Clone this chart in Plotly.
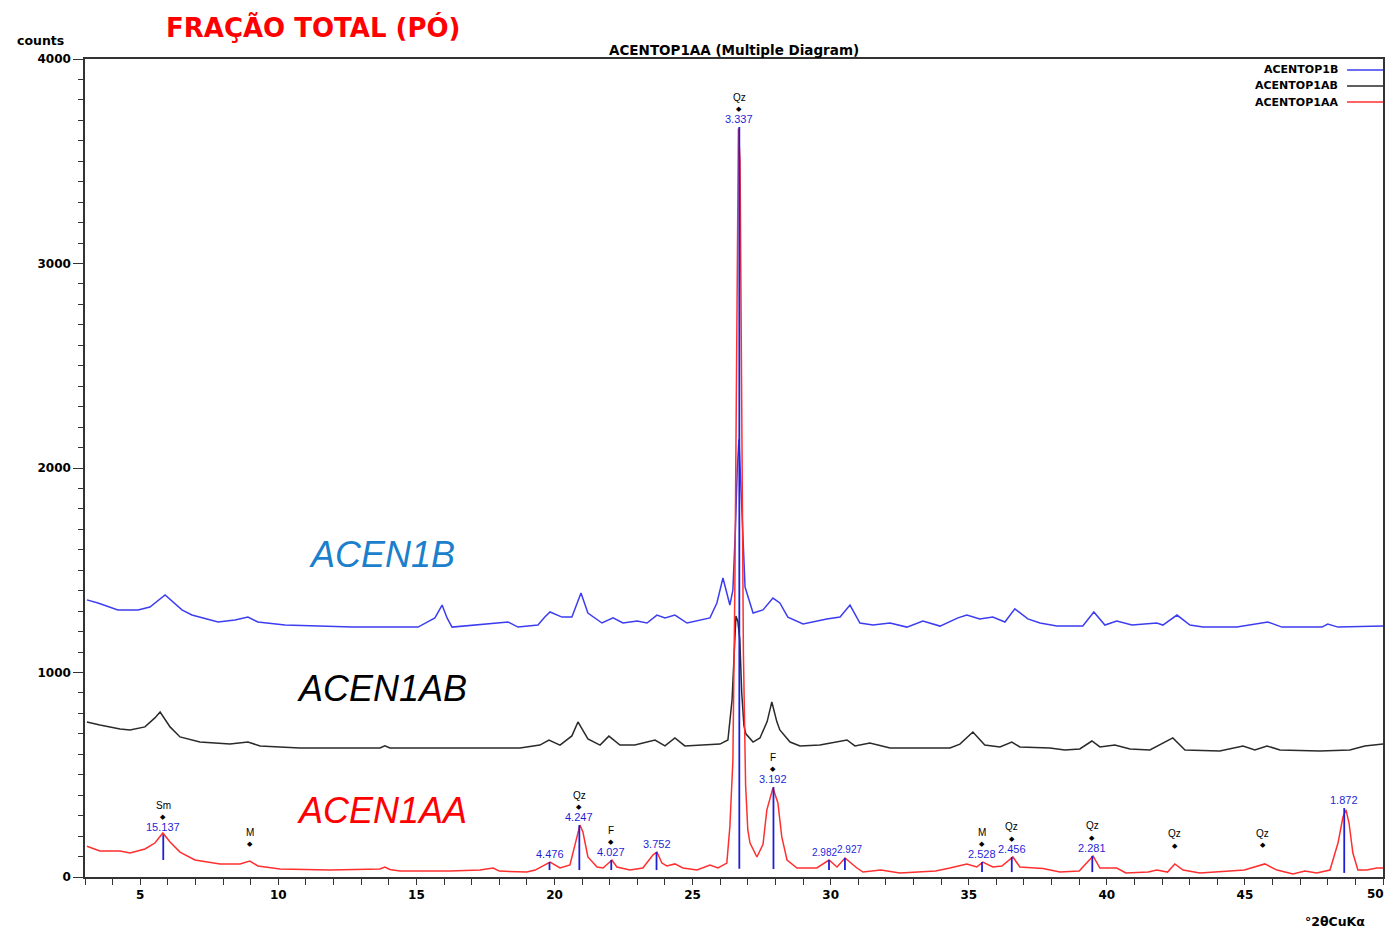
import math
import plotly.graph_objects as go

# ---------------- diffractogram traces (°2θ, counts) ----------------
two_theta_1b = [3.07, 3.47, 4.19, 4.92, 5.35, 5.90, 6.51, 6.87, 7.82, 8.43, 8.90, 9.26, 10.24,
                12.67, 15.06, 15.67, 15.93, 16.11, 16.29, 18.32, 18.68, 19.40, 19.65, 19.84,
                20.27, 20.63, 20.96, 21.21, 21.72, 22.12, 22.48, 22.99, 23.35, 23.71, 24.00,
                24.36, 24.80, 25.63, 25.88, 26.10, 26.35, 26.46, 26.55, 26.62, 26.68, 26.75,
                26.82, 26.90, 27.19, 27.55, 27.91, 28.16, 28.45, 29.00, 29.86, 30.34, 30.70,
                31.06, 31.53, 32.15, 32.76, 33.34, 33.96, 34.61, 34.93, 35.40, 35.87, 36.31,
                36.67, 37.14, 37.58, 38.19, 39.13, 39.53, 39.93, 40.36, 40.91, 41.81, 42.03,
                42.54, 43.01, 43.48, 44.71, 45.83, 46.34, 47.79, 48.00, 48.37, 50.00]
counts_1b = [1355, 1340, 1306, 1306, 1320, 1379, 1306, 1281, 1247, 1257, 1271, 1247, 1232,
             1222, 1222, 1267, 1330, 1267, 1222, 1247, 1222, 1232, 1271, 1296,
             1271, 1271, 1389, 1291, 1242, 1267, 1242, 1252, 1242, 1281, 1267,
             1281, 1242, 1267, 1340, 1462, 1330, 1403, 1700, 2000, 2140, 1900,
             1600, 1418, 1291, 1306, 1364, 1340, 1271, 1237, 1262, 1271, 1330,
             1242, 1232, 1242, 1222, 1252, 1227, 1267, 1281, 1262, 1271, 1247,
             1311, 1262, 1242, 1227, 1227, 1296, 1232, 1252, 1232, 1242, 1232,
             1281, 1232, 1222, 1222, 1247, 1222, 1222, 1237, 1222, 1227]

two_theta_1ab = [3.07, 3.54, 4.27, 4.63, 5.17, 5.53, 5.72, 6.08, 6.44, 7.16, 8.25, 8.90, 9.34,
                 10.78, 13.68, 13.86, 14.04, 16.22, 18.75, 19.47, 19.80, 20.20, 20.63, 20.85,
                 21.21, 21.65, 21.97, 22.37, 22.91, 23.64, 24.00, 24.36, 24.72, 25.99, 26.28,
                 26.43, 26.50, 26.57, 26.64, 26.71, 26.78, 26.86, 26.93, 27.19, 27.44, 27.70,
                 27.87, 28.05, 28.16, 28.53, 28.89, 29.61, 30.59, 30.88, 31.42, 32.15, 34.32,
                 34.68, 35.15, 35.58, 36.13, 36.56, 36.85, 37.94, 38.48, 39.02, 39.46, 39.75,
                 40.29, 40.84, 41.56, 42.39, 42.83, 44.09, 44.93, 45.36, 45.80, 46.27, 47.71,
                 48.80, 49.34, 50.00]
counts_1ab = [758, 743, 724, 719, 734, 778, 807, 734, 685, 660, 650, 660, 641,
              631, 631, 641, 631, 631, 631, 645, 670, 645, 690, 758,
              675, 645, 689, 645, 645, 670, 641, 680, 641, 650, 670,
              866, 1110, 1276, 1250, 1160, 900, 740, 700, 660, 680, 760,
              856, 760, 719, 660, 641, 645, 670, 641, 655, 631, 631,
              650, 709, 645, 636, 660, 636, 631, 621, 626, 665, 636,
              645, 626, 621, 680, 621, 616, 641, 621, 641, 621, 616,
              621, 641, 650]

two_theta_1aa = [3.07, 3.54, 4.27, 4.63, 5.17, 5.53, 5.82, 6.08, 6.44, 6.98, 7.89, 8.61, 8.97,
                 9.26, 10.06, 11.87, 13.68, 13.86, 14.04, 14.40, 16.22, 17.30, 17.78, 18.00,
                 19.00, 19.30, 19.84, 20.20, 20.56, 20.81, 20.92, 21.03, 21.21, 21.54, 21.76,
                 22.08, 22.26, 22.73, 23.20, 23.57, 23.71, 23.89, 24.07, 24.36, 24.65, 25.16,
                 25.63, 25.92, 26.24, 26.35, 26.46, 26.53, 26.60, 26.66, 26.72, 26.78, 26.84,
                 26.92, 27.00, 27.08, 27.33, 27.55, 27.69, 27.91, 28.09, 28.23, 28.42, 28.78,
                 29.50, 29.94, 30.23, 30.52, 30.95, 31.17, 31.82, 32.50, 33.80, 34.32, 34.93,
                 35.29, 35.51, 35.87, 36.20, 36.60, 36.85, 37.40, 37.69, 38.30, 39.00, 39.50,
                 39.75, 40.36, 40.69, 41.50, 41.81, 42.20, 42.46, 42.76, 43.37, 44.98, 45.72,
                 46.16, 46.74, 47.17, 47.60, 48.08, 48.37, 48.55, 48.66, 48.77, 48.91, 49.09,
                 49.41, 49.78, 50.00]
counts_1aa = [150, 127, 127, 117, 137, 166, 215, 171, 122, 83, 64, 64, 78,
              54, 39, 34, 39, 49, 37, 29, 29, 34, 44, 29,
              24, 34, 73, 44, 59, 196, 254, 220, 98, 49, 44,
              83, 49, 34, 44, 108, 122, 68, 54, 64, 44, 34,
              59, 44, 68, 245, 570, 1400, 2700, 3660, 3500, 2200, 1100,
              450, 230, 166, 98, 160, 328, 435, 362, 196, 83, 44,
              44, 83, 49, 93, 44, 24, 34, 20, 29, 44, 64,
              49, 73, 49, 54, 98, 49, 44, 42, 24, 29, 103,
              44, 44, 20, 25, 34, 24, 64, 34, 20, 34, 64,
              34, 15, 29, 20, 34, 166, 293, 328, 264, 117, 34,
              34, 44, 44]

# ---------------- peak identification ----------------
CU_KALPHA = 1.5406  # Å

stick_d = [15.137, 4.476, 4.247, 4.027, 3.752, 3.337, 3.192, 2.982, 2.927,
           2.528, 2.456, 2.281, 1.872]
stick_low = [83, 34, 34, 34, 34, 40, 39, 34, 34, 24, 24, 24, 20]
stick_high = [205, 73, 254, 83, 122, 3667, 440, 83, 93, 73, 98, 103, 337]
# small horizontal nudges (px) for the crowded label pair near 30°
stick_label_xshift = [0, 0, 0, 0, 0, 0, 0, -5, 5, 0, 0, 0, 0]

phase_names = ["Sm", "M", "Qz", "F", "Qz", "F", "M", "Qz", "Qz", "Qz", "Qz"]
phase_two_theta = [5.83, 8.97, 20.90, 22.06, 26.69, 27.93, 35.48, 36.56, 39.47, 42.46, 45.65]
phase_counts = [205, 73, 254, 83, 3667, 440, 73, 98, 103, 64, 68]

sample_names = ["ACEN1B", "ACEN1AB", "ACEN1AA"]
sample_label_counts = [1575, 924, 323]
legend_names = ["ACENTOP1B", "ACENTOP1AB", "ACENTOP1AA"]

X_MAX = 50

BLUE = "#3d3df0"
BLACK = "#2a2a2a"
RED = "#ff2f2f"
STICK = "#1f1fd8"


def d_to_two_theta(d):
    return math.degrees(2.0 * math.asin(CU_KALPHA / (2.0 * d)))


stick_x = [d_to_two_theta(d) for d in stick_d]

fig = go.Figure()
for xs, ys, col, name in [(two_theta_1b, counts_1b, BLUE, legend_names[0]),
                          (two_theta_1ab, counts_1ab, BLACK, legend_names[1]),
                          (two_theta_1aa, counts_1aa, RED, legend_names[2])]:
    fig.add_trace(go.Scatter(x=xs, y=ys, mode="lines", name=name,
                             line=dict(color=col, width=1.5), showlegend=False))

sx, sy = [], []
for x, lo, hi in zip(stick_x, stick_low, stick_high):
    sx += [x, x, None]
    sy += [lo, hi, None]
fig.add_trace(go.Scatter(x=sx, y=sy, mode="lines", line=dict(color=STICK, width=1.8),
                         showlegend=False, hoverinfo="skip"))

ann = []
# d-spacing labels
for x, hi, d, dx in zip(stick_x, stick_high, stick_d, stick_label_xshift):
    ann.append(dict(x=x, y=hi, xref="x", yref="y", text=f"{d:.3f}", showarrow=False,
                    yanchor="middle", yshift=8, xshift=dx,
                    font=dict(family="Liberation Sans, Arial", size=11 if dx == 0 else 10,
                              color=STICK)))
# phase markers
for name, x, c in zip(phase_names, phase_two_theta, phase_counts):
    ann.append(dict(x=x, y=c, xref="x", yref="y", text="◆", showarrow=False,
                    yanchor="middle", yshift=18,
                    font=dict(family="DejaVu Sans", size=7, color="black")))
    ann.append(dict(x=x, y=c, xref="x", yref="y", text=name, showarrow=False,
                    yanchor="middle", yshift=30,
                    font=dict(family="Liberation Sans, Arial", size=10, color="black")))

# sample names
for name, c, col in zip(sample_names, sample_label_counts, ["#1c7fcc", "black", "#ff0000"]):
    ann.append(dict(x=13.76, y=c, xref="x", yref="y", text=f"<i>{name}</i>", showarrow=False,
                    xanchor="center", yanchor="middle",
                    font=dict(family="Liberation Sans, Arial", size=36, color=col)))

# last x tick label, kept inside the page at the right edge
ann.append(dict(x=X_MAX, y=0, xref="x", yref="y", text=f"<b>{X_MAX}</b>", showarrow=False,
                xanchor="right", yanchor="middle", yshift=-17, xshift=3,
                font=dict(family="DejaVu Sans", size=12, color="black")))

# headings and axis captions
ann += [
    dict(x=0.1757, y=1.039, xref="paper", yref="paper", text="<b>FRAÇÃO TOTAL (PÓ)</b>",
         showarrow=False, xanchor="center", yanchor="middle",
         font=dict(family="DejaVu Sans", size=26, color="#ff0000")),
    dict(x=0.5, y=1.011, xref="paper", yref="paper", text="<b>ACENTOP1AA (Multiple Diagram)</b>",
         showarrow=False, xanchor="center", yanchor="middle",
         font=dict(family="DejaVu Sans", size=13.5, color="black")),
    dict(x=-0.0339, y=1.023, xref="paper", yref="paper", text="<b>counts</b>",
         showarrow=False, xanchor="center", yanchor="middle",
         font=dict(family="DejaVu Sans", size=12.5, color="black")),
    dict(x=0.963, y=-0.055, xref="paper", yref="paper", text="<b>°2θCuKα</b>",
         showarrow=False, xanchor="center", yanchor="middle",
         font=dict(family="DejaVu Sans", size=12.5, color="black")),
]

# legend (text left of the line sample)
shapes = []
for i, (name, col) in enumerate(zip(legend_names, [BLUE, BLACK, RED])):
    yy = 0.9866 - i * 0.0196
    ann.append(dict(x=0.9669, y=yy, xref="paper", yref="paper", text=f"<b>{name}</b>",
                    showarrow=False, xanchor="right", yanchor="middle",
                    font=dict(family="DejaVu Sans", size=11, color="black")))
    shapes.append(dict(type="line", xref="paper", yref="paper", x0=0.9723, x1=1.0,
                       y0=yy, y1=yy, line=dict(color=col, width=1.4)))

axis_font = dict(family="DejaVu Sans", size=12, color="black", weight="bold")
fig.update_layout(
    width=1386, height=931,
    margin=dict(l=85, r=3, t=59, b=54, autoexpand=False),
    paper_bgcolor="white", plot_bgcolor="white",
    annotations=ann, shapes=shapes,
    xaxis=dict(range=[3, X_MAX + 0.0001], tick0=0, dtick=5, showgrid=False, zeroline=False,
               showline=True, linecolor="#333", linewidth=1.5, mirror=True,
               ticks="outside", ticklen=6, tickwidth=1.2, tickcolor="#333",
               tickfont=axis_font, ticklabeloverflow="hide past div", automargin=False,
               minor=dict(dtick=1, ticks="outside", ticklen=6, tickcolor="#333", tickwidth=1.2)),
    yaxis=dict(range=[0, 4000], tick0=0, dtick=1000, showgrid=False, zeroline=False,
               showline=True, linecolor="#333", linewidth=1.5, mirror=True,
               ticks="outside", ticklen=10, tickwidth=1.2, tickcolor="#333",
               tickfont=axis_font, automargin=False,
               minor=dict(dtick=100, ticks="outside", ticklen=5, tickcolor="#333", tickwidth=1.2)),
)

fig.write_html("out.html")
